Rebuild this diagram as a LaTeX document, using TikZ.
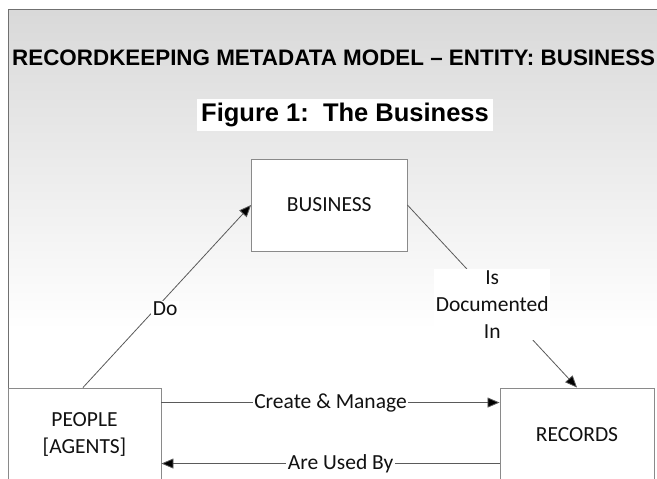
\documentclass[tikz,border=0pt]{standalone}
\usepackage{fontspec}
\setmainfont{Carlito}
\newfontfamily\titlefont{Liberation Sans}
\usetikzlibrary{arrows.meta,calc}
\definecolor{boxline}{HTML}{8A8A8A}
\definecolor{arrline}{HTML}{5A5A5A}
\definecolor{framec}{HTML}{707070}
\definecolor{txt}{HTML}{111111}
\begin{document}
\begin{tikzpicture}[x=1pt,y=-1pt,
  entity/.style={draw=boxline,line width=0.9pt,fill=white,text=txt,align=center,
    inner sep=0pt,font=\fontsize{21.5}{27}\selectfont},
  conn/.style={draw=arrline,line width=0.8pt},
  tipped/.style={conn,-{Triangle[length=12pt,width=10pt,fill=black]}},
  lbl/.style={fill=white,text=txt,align=center,inner sep=1.5pt,
    font=\fontsize{21.5}{27}\selectfont}]
\useasboundingbox (0,0) rectangle (657,479);
\clip (0,0) rectangle (657,479);
\fill[white] (0,0) rectangle (657,479);
\shade[top color=black!15,bottom color=white] (8,9) rectangle (657,330);
\draw[framec,line width=0.9pt] (8.3,479) -- (8.3,9.3) -- (657,9.3);

\node[anchor=base west,inner sep=0pt,text=black,
  font=\titlefont\bfseries\fontsize{22.4}{26}\selectfont] (title) at (12,65)
  {RECORDKEEPING METADATA MODEL – ENTITY: BUSINESS};
\node[fill=white,minimum width=296pt,minimum height=32pt,inner sep=0pt,text=black,
  font=\titlefont\bfseries\fontsize{25.5}{30}\selectfont] (fig) at (345,115)
  {Figure 1:\ \ The Business};

\node[entity,minimum width=155.5pt,minimum height=92pt] (business) at (329.25,205) {BUSINESS};
\node[entity,minimum width=153pt,minimum height=93pt] (people) at (84.5,434.5) {PEOPLE\\{}[AGENTS]};
\node[entity,minimum width=154pt,minimum height=93pt] (records) at (577,434.5) {RECORDS};

\draw[tipped] ($(people.north west)!0.49!(people.north east)$) -- (business.west)
  node[lbl,pos=0.43,xshift=10pt] (do) {Do};
\draw[tipped] (business.east) -- (records.north)
  node[lbl,pos=0.5,yshift=-8pt] (doc) {Is\\Documented\\In};
\draw[tipped] ([yshift=-15pt]people.north east) -- ([yshift=-15pt]records.north west)
  node[lbl,midway] (cm) {Create \& Manage};
\draw[tipped] ([yshift=-76pt]records.north west) -- ([yshift=-76pt]people.north east)
  node[lbl,pos=0.47] (used) {Are Used By};
\end{tikzpicture}
\end{document}
